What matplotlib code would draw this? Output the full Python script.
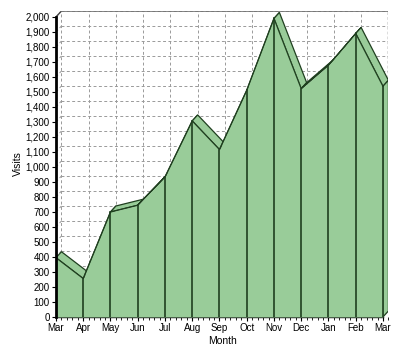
import matplotlib.pyplot as plt
from matplotlib.patches import Polygon
from matplotlib.ticker import MultipleLocator, FuncFormatter

plt.rcParams['font.family'] = ['Liberation Sans', 'DejaVu Sans']

months = ['Mar', 'Apr', 'May', 'Jun', 'Jul', 'Aug', 'Sep', 'Oct', 'Nov', 'Dec', 'Jan', 'Feb', 'Mar']
visits = [395, 256, 700, 745, 933, 1307, 1116, 1511, 1990, 1522, 1678, 1890, 1538]

green = '#99cc99'
edge = '#1f3f1f'
dx, dy = 0.2, 40  # depth offset of the back wall

fig = plt.figure(figsize=(4, 3.56), dpi=100)
ax = fig.add_axes([0.14, 0.1096, 0.831, 0.8596])
n = len(visits)
xs = list(range(n))

# back wall grid
grid = dict(color='#9a9a9a', lw=0.7, ls=(0, (3, 2.5)), zorder=1)
for v in range(0, 2001, 100):
    ax.plot([dx, n - 1 + dx], [v + dy, v + dy], **grid)
    ax.plot([0, dx], [v, v + dy], **grid)
for x in xs:
    ax.plot([x + dx, x + dx], [dy, 2000 + dy], **grid)
ax.plot([n - 1 + dx, n - 1 + dx], [dy, 2000 + dy], color='#555555', lw=1, ls=(0, (2, 1.5)), zorder=1)
ax.plot([0, dx], [2000, 2000 + dy], color='#404040', lw=1, zorder=1)
ax.plot([dx, n - 1 + dx], [2000 + dy, 2000 + dy], color='#707070', lw=1.2, zorder=1)

# top faces of the 3d area
for i in range(n - 1):
    x1, x2 = xs[i], xs[i + 1]
    y1, y2 = visits[i], visits[i + 1]
    face = Polygon([(x1, y1), (x2, y2), (x2 + dx, y2 + dy), (x1 + dx, y1 + dy)],
                   closed=True, fc=green, ec=edge, lw=0.9, zorder=2)
    ax.add_patch(face)

# right side face
side = Polygon([(xs[-1], 0), (xs[-1] + dx, dy), (xs[-1] + dx, visits[-1] + dy), (xs[-1], visits[-1])],
               closed=True, fc=green, ec=edge, lw=0.9, zorder=2)
ax.add_patch(side)

# front face
ax.fill_between(xs, visits, 0, color=green, lw=0, zorder=3)
ax.plot(xs, visits, color=edge, lw=0.9, zorder=4)
for x, v in zip(xs, visits):
    ax.plot([x, x], [0, v], color=edge, lw=1.2, zorder=4)

for s in ['top', 'right']:
    ax.spines[s].set_visible(False)
ax.spines['left'].set_bounds(0, 2000)
ax.spines['bottom'].set_bounds(0, n - 1)
ax.spines['left'].set_linewidth(2)
ax.spines['bottom'].set_linewidth(1)
ax.spines['left'].set_zorder(5)

ax.set_xticks(xs)
ax.set_xticklabels(months)
ax.xaxis.set_minor_locator(MultipleLocator(0.2))
ax.yaxis.set_major_locator(MultipleLocator(100))
ax.yaxis.set_major_formatter(FuncFormatter(lambda v, p: f'{int(v):,}'))
ax.tick_params(axis='both', labelsize=7, length=3, width=0.8, pad=1.5)
ax.tick_params(axis='x', which='minor', length=2, width=0.6)
ax.set_xlim(0, n - 1 + dx)
ax.set_ylim(0, 2000 + dy)

ax.set_xlabel('Month', fontsize=7.5, labelpad=2)
ax.set_ylabel('Visits', fontsize=7.5, labelpad=2)

fig.savefig('out.png', dpi=100)
